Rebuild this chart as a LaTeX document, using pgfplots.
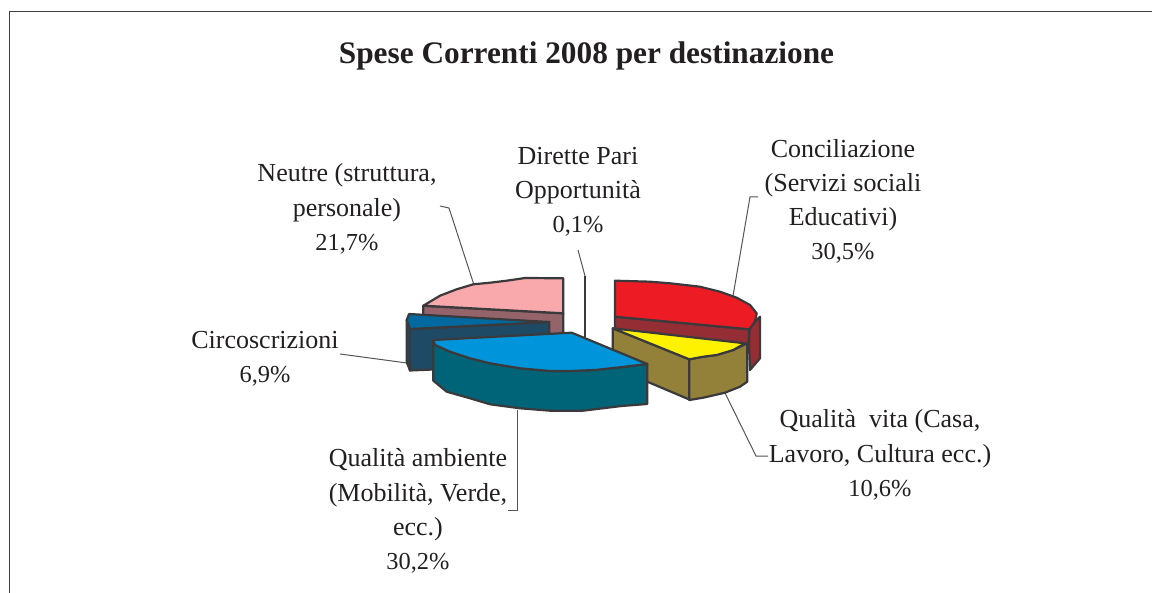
\documentclass[border=0pt]{standalone}
\usepackage{fontspec}
\setmainfont{Liberation Serif}
\usepackage{pgfplots}
\pgfplotsset{compat=1.18}
\definecolor{edgec}{HTML}{3A3A3C}
\definecolor{framec}{HTML}{404042}
\definecolor{leadc}{HTML}{555557}
\definecolor{redtop}{HTML}{ED1C24}
\definecolor{redside}{HTML}{952D35}
\definecolor{yellowtop}{HTML}{FFF200}
\definecolor{oliveside}{HTML}{938039}
\definecolor{bluetop}{HTML}{0095DA}
\definecolor{tealside}{HTML}{006478}
\definecolor{rosetop}{HTML}{F9A8AC}
\definecolor{roseside}{HTML}{95646A}
\definecolor{circtop}{HTML}{006AA0}
\definecolor{circside}{HTML}{1F4A66}
\definecolor{textc}{HTML}{231F20}
\tikzset{
    slice/.style={draw=edgec, line width=1.1pt, line join=round},
    leader/.style={draw=leadc, line width=0.5pt},
    lbl/.style={font=\fontsize{13}{17.1}\selectfont, text=textc, align=center, inner sep=0pt},
}
\newcommand\pct[1]{\fontsize{12.2}{17.1}\selectfont #1}
\begin{document}
\begin{tikzpicture}
\path[use as bounding box] (0,0) rectangle (576pt,296.5pt);
\begin{axis}[
    at={(0,0)},
    anchor=south west,
    scale only axis,
    width=576pt,
    height=296.5pt,
    xmin=0, xmax=1152,
    ymin=0, ymax=593,
    y dir=reverse,
    hide axis,
    clip=false,
]
% frame
\addplot[draw=framec, line width=0.9pt] coordinates {(9.5,593) (9.5,11.5) (1152,11.5)};

% leader lines
\addplot[leader] coordinates {(440,206) (449,208) (474,285)};
\addplot[leader] coordinates {(578,250) (585,276)};
\addplot[leader] coordinates {(758,197) (750,197) (733,296)};
\addplot[leader] coordinates {(340,354) (407,363)};
\addplot[leader] coordinates {(517,410) (517,510) (508,510)};
\addplot[leader] coordinates {(725,393) (756,456) (768,456)};

% neutre
\addplot[slice, fill=roseside] coordinates {(423.3,305.7) (563.3,313.3) (563.3,335) (423.3,335)} -- cycle;
\addplot[slice, fill=rosetop] coordinates {(423.3,305.7) (440,295.7) (456.7,289.3) (473.3,284.3) (490,282.7) (506.7,280.7) (525,278) (563.3,278.3) (563.3,313.3)} -- cycle;

% circoscrizioni
\addplot[slice, fill=circside] coordinates {(406.7,320) (410,329) (410,370.5) (406.7,362)} -- cycle;
\addplot[slice, fill=circside] coordinates {(410,329) (549.3,322) (549.3,345) (433,345) (433,369.5) (410,370.5)} -- cycle;
\addplot[slice, fill=circtop] coordinates {(409,314) (549.3,322) (410,329) (406.7,320)} -- cycle;

% diretta pari opportunita
\addplot[draw=edgec, line width=1.3pt] coordinates {(585,276) (585,337)};

% conciliazione
\addplot[slice, fill=redside] coordinates {(749.3,329.3) (755,321.7) (760,316.7) (760,358.3) (750,370) (749,345)} -- cycle;
\addplot[slice, fill=redside] coordinates {(615,316.7) (749.3,329.3) (748.3,345) (615,330)} -- cycle;
\addplot[slice, fill=redtop] coordinates {(615,280.7) (650,281.7) (670,283.3) (700,286.7) (720,291.7) (736.7,297.7) (750,305) (756.7,313.3) (755,321.7) (749.3,329.3) (615,316.7)} -- cycle;

% qualita vita
\addplot[slice, fill=oliveside] coordinates {(612.7,328.3) (689.3,359.3) (689.3,399.5) (612.7,367)} -- cycle;
\addplot[slice, fill=oliveside] coordinates {(689.3,359.3) (703.3,356.7) (716.7,355) (733.3,350) (747.3,343.3) (747.3,381.7) (740,386.7) (725,392.7) (703.3,397.7) (689.3,400)} -- cycle;
\addplot[slice, fill=yellowtop] coordinates {(612.7,328.3) (745,343.3) (733.3,350) (716.7,355) (703.3,356.7) (689.3,359.3)} -- cycle;

% qualita ambiente
\addplot[slice, fill=tealside] coordinates {(433.3,340) (435,345) (450,351.7) (470,358.3) (490,363.3) (520,368.3) (550,371) (570,371) (595,370) (620,367.3) (647.3,364) (647.3,404) (621.7,406) (583,410.7) (550,410.7) (520,408.3) (490,404.3) (470,398.3) (446.7,391.7) (433.3,380.7)} -- cycle;
\addplot[slice, fill=bluetop] coordinates {(433.3,340) (571.7,332.7) (647.3,364) (620,367.3) (595,370) (570,371) (550,371) (520,368.3) (490,363.3) (470,358.3) (450,351.7) (435,345)} -- cycle;

% title and labels
\node[font=\fontsize{15.66}{18}\bfseries\selectfont, text=textc, inner sep=0pt] at (axis cs:586.5,56) {Spese Correnti 2008 per destinazione};
\node[lbl] at (axis cs:347,209) {Neutre (struttura,\\personale)\\\pct{21,7\%}};
\node[lbl] at (axis cs:578,192) {Dirette Pari\\Opportunità\\\pct{0,1\%}};
\node[lbl] at (axis cs:843,201.5) {Conciliazione\\(Servizi sociali\\Educativi)\\\pct{30,5\%}};
\node[lbl] at (axis cs:265,358.5) {Circoscrizioni\\\pct{6,9\%}};
\node[lbl] at (axis cs:418,511) {Qualità ambiente\\(Mobilità, Verde,\\ecc.)\\\pct{30,2\%}};
\node[lbl] at (axis cs:880,455) {Qualità\ \ vita (Casa,\\Lavoro, Cultura ecc.)\\\pct{10,6\%}};
\end{axis}
\end{tikzpicture}
\end{document}
